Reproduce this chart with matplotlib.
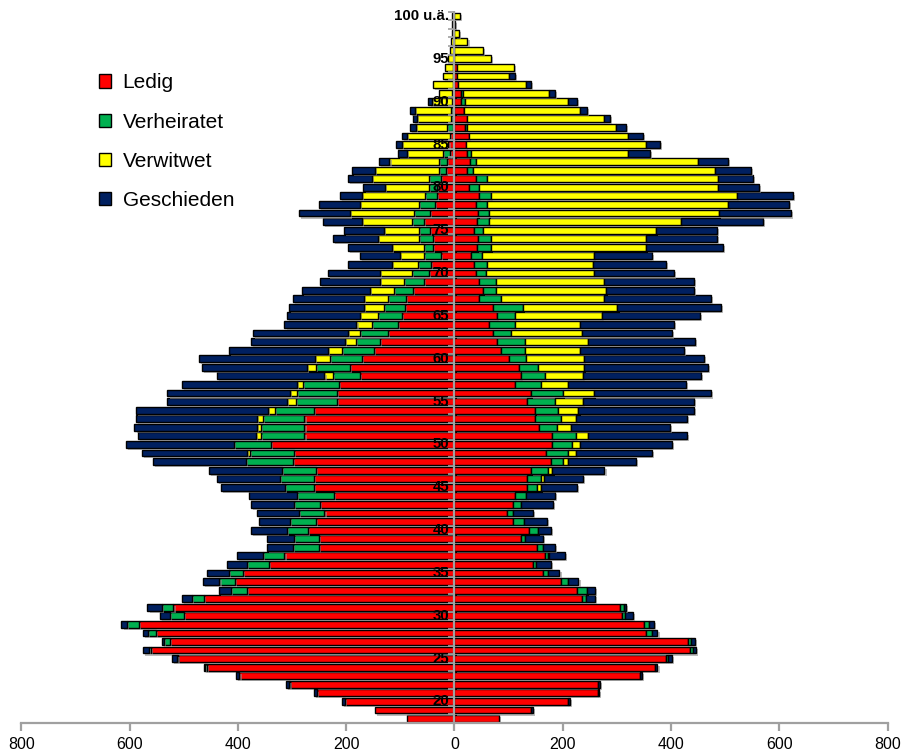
import numpy as np
import matplotlib
matplotlib.use('Agg')
import matplotlib.pyplot as plt
from matplotlib.patches import Patch
import matplotlib.patheffects as pe

plt.rcParams['font.family'] = ['Liberation Sans', 'DejaVu Sans']

# ages 18 .. 100 (100 = "100 und älter")
ages = list(range(18, 101))
age_labels = {20: "20", 25: "25", 30: "30", 35: "35", 40: "40", 45: "45",
              50: "50", 55: "55", 60: "60", 65: "65", 70: "70", 75: "75",
              80: "80", 85: "85", 90: "90", 95: "95", 100: "100 u.ä."}
categories = ["Ledig", "Verheiratet", "Verwitwet", "Geschieden"]
colors = ["#FF0000", "#00B050", "#FFFF00", "#002060"]

# left half, age 18 -> 100
left_ledig = [88, 147, 202, 254, 304, 397, 457, 510, 561, 526, 551, 583, 500, 519, 463,
              383, 405, 391, 342, 314, 251, 251, 270, 256, 240, 248, 222, 259, 259, 256,
              299, 296, 339, 277, 277, 277, 259, 217, 217, 214, 174, 193, 171, 149, 137,
              123, 105, 97, 91, 90, 76, 57, 47, 43, 25, 39, 40, 46, 57, 46,
              36, 33, 33, 25, 16, 13, 8, 11, 9, 3, 3, 3, 2, 2, 2,
              1, 1, 0, 0, 0, 0, 0, 0]
left_verh = [0, 0, 0, 0, 2, 0, 4, 3, 3, 11, 15, 22, 25, 21, 22,
             30, 29, 25, 41, 40, 48, 45, 40, 47, 48, 48, 69, 54, 63, 63,
             86, 82, 69, 80, 80, 77, 72, 75, 74, 66, 51, 63, 59, 59, 45,
             51, 48, 45, 40, 33, 36, 37, 32, 25, 32, 18, 25, 20, 22, 29,
             29, 21, 14, 22, 13, 16, 13, 0, 0, 11, 3, 3, 3, 2, 1,
             1, 1, 1, 0, 0, 0, 0, 0]
left_verw = [0, 0, 0, 0, 0, 0, 0, 0, 0, 0, 0, 0, 0, 0, 0,
             0, 0, 0, 0, 0, 0, 0, 0, 0, 0, 0, 0, 0, 0, 0,
             0, 6, 0, 10, 8, 10, 14, 17, 12, 11, 15, 17, 28, 25, 21,
             22, 28, 32, 36, 44, 44, 44, 59, 48, 44, 59, 76, 65, 92, 118,
             109, 117, 81, 105, 117, 91, 67, 86, 78, 57, 64, 67, 37, 24, 37,
             20, 15, 11, 8, 7, 5, 4, 4]
left_gesch = [0, 0, 5, 5, 5, 6, 2, 9, 11, 4, 9, 10, 19, 27, 19,
              22, 30, 41, 37, 47, 47, 50, 66, 58, 76, 80, 88, 118, 117, 134,
              171, 193, 198, 218, 226, 224, 243, 221, 227, 213, 199, 194, 213, 183, 173,
              176, 133, 136, 139, 132, 125, 110, 95, 81, 73, 81, 84, 73, 72, 95,
              77, 40, 40, 45, 44, 20, 17, 11, 10, 12, 6, 10, 6, 0, 0,
              0, 0, 0, 0, 0, 0, 0, 0]

# right half, age 18 -> 100
right_ledig = [83, 142, 210, 265, 265, 342, 371, 390, 435, 432, 354, 350, 310, 306, 236,
               226, 196, 163, 145, 167, 152, 123, 138, 108, 97, 108, 112, 134, 134, 141,
               178, 170, 181, 181, 156, 149, 149, 134, 141, 112, 123, 120, 100, 86, 79,
               72, 64, 79, 72, 46, 53, 46, 39, 36, 31, 41, 43, 36, 41, 43,
               39, 46, 27, 39, 24, 28, 24, 21, 27, 20, 23, 17, 13, 12, 6,
               5, 5, 0, 0, 0, 0, 0, 0]
right_verh = [0, 0, 0, 0, 0, 0, 0, 5, 5, 5, 10, 10, 5, 7, 7,
              18, 14, 10, 6, 5, 11, 7, 16, 20, 11, 15, 21, 18, 26, 32,
              22, 40, 37, 43, 33, 47, 43, 52, 59, 48, 44, 35, 33, 44, 51,
              32, 48, 33, 55, 40, 23, 30, 19, 25, 19, 26, 25, 17, 23, 21,
              22, 21, 19, 22, 11, 11, 6, 0, 0, 4, 0, 1, 7, 3, 0,
              0, 0, 0, 0, 0, 0, 0, 0]
right_verw = [0, 0, 0, 0, 0, 0, 0, 0, 0, 0, 0, 0, 0, 0, 0,
              0, 0, 0, 0, 3, 0, 0, 0, 0, 0, 0, 0, 8, 6, 8,
              10, 14, 14, 23, 26, 29, 37, 51, 58, 50, 70, 85, 107, 102, 117,
              131, 120, 160, 174, 191, 204, 201, 200, 194, 208, 286, 286, 319, 355, 425,
              445, 455, 440, 425, 446, 410, 291, 332, 294, 274, 253, 214, 190, 159, 127,
              95, 105, 67, 53, 24, 9, 1, 10]
right_gesch = [0, 3, 4, 2, 4, 4, 4, 7, 6, 8, 11, 8, 14, 4, 17,
               16, 19, 21, 27, 29, 23, 34, 24, 43, 37, 59, 53, 66, 71, 96,
               125, 141, 170, 183, 183, 204, 213, 205, 216, 217, 219, 228, 220, 192, 198,
               167, 173, 181, 192, 197, 162, 165, 147, 136, 107, 143, 131, 113, 151, 132,
               112, 103, 77, 65, 67, 56, 40, 27, 27, 19, 12, 13, 16, 12, 9,
               12, 0, 0, 0, 0, 0, 0, 0]

left = [left_ledig, left_verh, left_verw, left_gesch]
right = [right_ledig, right_verh, right_verw, right_gesch]

fig = plt.figure(figsize=(9.05, 7.56), dpi=100)
ax = fig.add_axes([0.0235, 0.044, 0.9573, 0.9411])

shadow = [pe.SimplePatchShadow(offset=(1.5, -1.5), shadow_rgbFace='#909090', alpha=0.6), pe.Normal()]
y = np.array(ages)
for side, sign in ((left, -1), (right, 1)):
    base = np.zeros(len(ages))
    for vals, col in zip(side, colors):
        v = np.array(vals, dtype=float)
        m = v > 0
        ax.barh(y[m], sign * v[m], left=sign * base[m], height=0.8, color=col,
                edgecolor='black', linewidth=1.0, path_effects=shadow, zorder=2)
        base += v

# centre axis with small ticks
ax.plot([0, 0], [17.52, 100.55], color='#A0A0A0', lw=1.6, zorder=5)
ax.hlines(np.arange(17.5, 101, 1), -11, 0, color='#A0A0A0', lw=1.2, zorder=5)

for a, lab in age_labels.items():
    ax.text(-10, a, lab, ha='right', va='center', fontsize=10.8,
            fontweight='bold', color='black', zorder=6)

ax.set_xlim(-800, 800)
ax.set_ylim(17.52, 100.55)
ax.set_xticks(range(-800, 801, 200))
ax.set_xticklabels([str(abs(t)) for t in range(-800, 801, 200)])
ax.set_yticks([])
for s in ('top', 'left', 'right'):
    ax.spines[s].set_visible(False)
ax.spines['bottom'].set_color('#A0A0A0')
ax.spines['bottom'].set_linewidth(1.6)
ax.tick_params(axis='x', direction='out', length=6, width=1.6, color='#A0A0A0',
               labelsize=11.5, pad=4)

handles = [Patch(facecolor=c, edgecolor='black', linewidth=1.0) for c in colors]
fig.legend(handles, categories, loc='upper left', bbox_to_anchor=(0.109, 0.903),
           frameon=False, fontsize=15, handlelength=0.6, handleheight=0.6,
           handletextpad=0.55, labelspacing=0.97, borderpad=0, borderaxespad=0)

plt.savefig('out.png', dpi=100)
